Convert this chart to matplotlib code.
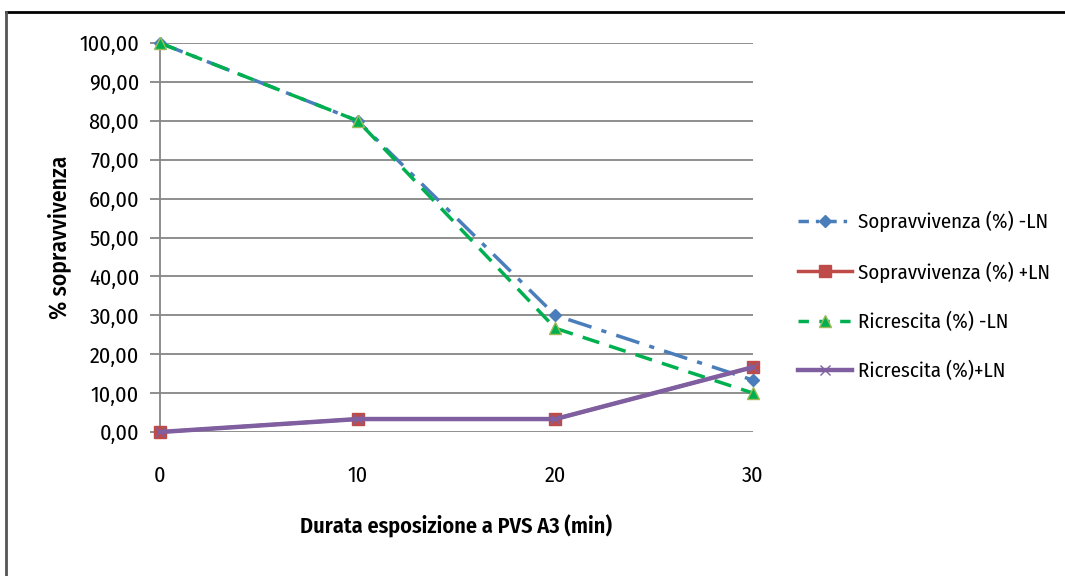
import matplotlib
matplotlib.use("Agg")
import matplotlib.pyplot as plt
from matplotlib import font_manager
from matplotlib.lines import Line2D
from matplotlib.ticker import FuncFormatter

minutes = [0, 10, 20, 30]
sopr_minus = [100.0, 80.0, 30.0, 13.33]
sopr_plus = [0.0, 3.33, 3.33, 16.67]
ricr_minus = [100.0, 80.0, 26.67, 10.0]
ricr_plus = [0.0, 3.33, 3.33, 16.67]
labels = ["Sopravvivenza (%) -LN", "Sopravvivenza (%) +LN",
          "Ricrescita (%) -LN", "Ricrescita (%)+LN"]

# narrow Calibri-like face if available
installed = {f.name for f in font_manager.fontManager.ttflist}
face = next((n for n in ["Fira Sans Condensed", "Roboto Condensed", "Carlito"]
             if n in installed), "DejaVu Sans")
plt.rcParams['font.family'] = [face, 'DejaVu Sans']

fig = plt.figure(figsize=(10.65, 5.76), dpi=100)
ax = fig.add_axes([160 / 1065, 1 - 432 / 576, 593 / 1065, 389 / 576])

blue, red, green, purple = "#4a7ebb", "#be4b48", "#00b050", "#7f5fa0"

ax.plot(minutes, sopr_minus, color=blue, lw=2.5, dashes=(7, 3, 1.5, 3),
        marker="D", ms=6, mfc=blue, mec=blue, label=labels[0], zorder=3)
ax.plot(minutes, sopr_plus, color=red, lw=2.5, marker="s", ms=9,
        mfc=red, mec=red, label=labels[1], zorder=3)
ax.plot(minutes, ricr_minus, color=green, lw=2.5, dashes=(5, 3),
        marker="^", ms=8, mfc=green, mec="#9bbb59", label=labels[2], zorder=4)
ax.plot(minutes, ricr_plus, color=purple, lw=3.2, marker="x", ms=7,
        mew=1, mec=purple, label=labels[3], zorder=5)

ax.set_xlim(0, 30)
ax.set_ylim(0, 100)
ax.set_xticks(minutes)
ax.set_yticks(range(0, 101, 10))
ax.yaxis.set_major_formatter(FuncFormatter(lambda v, p: f"{v:.2f}".replace(".", ",")))
ax.grid(axis="y", color="#868686", lw=1.3)
ax.set_axisbelow(True)
for s in ["top", "right", "bottom"]:
    ax.spines[s].set_visible(False)
ax.spines["left"].set_color("#868686")
ax.spines["left"].set_linewidth(1.3)
ax.tick_params(axis="y", length=7, width=1.3, color="#868686", labelsize=16, pad=8)
ax.tick_params(axis="x", length=0, labelsize=16, pad=24)
for ln in ax.lines:
    ln.set_clip_on(False)

ax.set_ylabel("% sopravvivenza", fontsize=17, fontweight="medium", labelpad=6)
ax.set_xlabel("Durata esposizione a PVS A3 (min)", fontsize=16,
              fontweight="semibold", labelpad=20)

handles = [
    Line2D([], [], color=blue, lw=2.5, dashes=(3, 2, 1, 2), marker="D", ms=6, mfc=blue, mec=blue),
    Line2D([], [], color=red, lw=2.5, marker="s", ms=9, mfc=red, mec=red),
    Line2D([], [], color=green, lw=2.5, dashes=(3, 3), marker="^", ms=8, mfc=green, mec="#9bbb59"),
    Line2D([], [], color=purple, lw=3.2, marker="x", ms=7, mew=1, mec=purple),
]
fig.legend(handles, labels, loc="center left", bbox_to_anchor=(798 / 1065, 1 - 296 / 576),
           frameon=False, fontsize=15, handlelength=2.6, labelspacing=1.4,
           handletextpad=0.3, borderpad=0, borderaxespad=0)

# chart frame
fig.add_artist(Line2D([6 / 1065, 1.0], [1 - 11.5 / 576] * 2, transform=fig.transFigure,
                      color="black", lw=2))
fig.add_artist(Line2D([6 / 1065] * 2, [0, 1 - 11.5 / 576], transform=fig.transFigure,
                      color="#555555", lw=2))

fig.savefig("out.png", dpi=100)
